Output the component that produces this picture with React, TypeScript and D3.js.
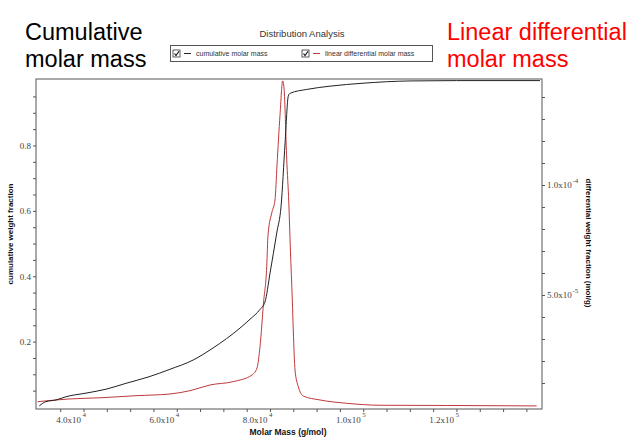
import React from "react";
import * as d3 from "d3";

// Cumulative molar mass distribution (black)
const cumMass = [30410, 31850, 33990, 36140, 40430, 44720, 49010, 53940, 58450, 63380, 67670, 73460, 75610, 77750, 78820, 79900, 81340, 82270, 83130, 83820, 84200, 87780, 92780, 99850, 109930, 119940, 137810];
const cumFrac = [0.005, 0.018, 0.023, 0.033, 0.044, 0.056, 0.074, 0.094, 0.117, 0.145, 0.182, 0.243, 0.27, 0.3, 0.323, 0.411, 0.534, 0.616, 0.81, 0.953, 0.961, 0.973, 0.983, 0.992, 0.999, 1.0, 1.0];

// Linear differential molar mass distribution (red)
const diffMass = [30050, 36780, 44080, 51150, 58450, 62740, 67030, 71960, 76040, 77110, 77750, 78500, 79190, 79470, 80330, 80970, 81400, 82040, 82620, 82900, 83480, 83930, 84270, 84680, 84890, 85260, 85970, 87040, 90620, 96350, 103490, 117800, 137100];
const diffFrac = [1.73e-6, 2.95e-6, 3.55e-6, 4.45e-6, 5.23e-6, 6.73e-6, 9.32e-6, 1.082e-5, 1.386e-5, 1.705e-5, 2.67e-5, 4.66e-5, 6.31e-5, 7.75e-5, 8.8e-5, 9.34e-5, 1.093e-4, 1.32e-4, 1.475e-4, 1.443e-4, 1.12e-4, 9.2e-5, 7.07e-5, 4.8e-5, 3.43e-5, 1.61e-5, 8.5e-6, 4.3e-6, 2.5e-6, 1.0e-6, 1e-7, 0, -2e-7];

// Axis ticks
const xMajorTicks = [40000, 60000, 80000, 100000, 120000];
const xTickMantissa = ["4.0x10", "6.0x10", "8.0x10", "1.0x10", "1.2x10"];
const xTickExponent = ["4", "4", "4", "5", "5"];
const leftMajorTicks = [0.2, 0.4, 0.6, 0.8];
const leftTickLabels = ["0.2", "0.4", "0.6", "0.8"];
const rightMajorTicks = [5e-5, 1e-4];
const rightTickMantissa = ["5.0x10", "1.0x10"];
const rightTickExponent = ["-5", "-4"];

const W = 631;
const H = 439;
const plot = { left: 36, right: 542, top: 79, bottom: 409 };

const serif = "'Liberation Serif', 'DejaVu Serif', serif";
const sans = "'Liberation Sans', Arial, sans-serif";

export default function App() {
  const x = d3.scaleLinear().domain([29700, 138240]).range([plot.left, plot.right]);
  const yL = d3.scaleLinear().domain([-0.0046, 1.0049]).range([plot.bottom, plot.top]);
  const yR = d3.scaleLinear().domain([-1.6e-6, 1.484e-4]).range([plot.bottom, plot.top]);

  const cumLine = d3
    .line<number>()
    .x((_, i) => x(cumMass[i]))
    .y((d) => yL(d))
    .curve(d3.curveMonotoneX);
  const diffLine = d3
    .line<number>()
    .x((_, i) => x(diffMass[i]))
    .y((d) => yR(d))
    .curve(d3.curveMonotoneX);

  const xMinor = d3.range(35000, 138000, 5000);
  const leftMinor = d3.range(0.05, 1.0, 0.05);
  const rightMinor = d3.range(1e-5, 1.45e-4, 1e-5);

  const axisColor = "#555";
  const labelColor = "#444";

  const checkbox = (cx: number, cy: number) => (
    <g>
      <rect x={cx} y={cy} width={7} height={7} fill="#fff" stroke="#333" strokeWidth={0.8} />
      <path d={`M${cx + 1.5},${cy + 3.5} L${cx + 3},${cy + 5.5} L${cx + 6},${cy + 1.2}`} fill="none" stroke="#111" strokeWidth={1.1} />
    </g>
  );

  return (
    <svg
      width={W}
      height={H}
      style={{ position: "absolute", left: 0, top: 0, background: "#fff" }}
      xmlns="http://www.w3.org/2000/svg"
    >
      <rect x={0} y={0} width={W} height={H} fill="#fff" />

      {/* Side headings */}
      <text x={25} y={40} fontFamily={sans} fontSize={23.5} fill="#000">Cumulative</text>
      <text x={25} y={67} fontFamily={sans} fontSize={23.5} fill="#000">molar mass</text>
      <text x={447} y={40} fontFamily={sans} fontSize={23.5} fill="#ff0000">Linear differential</text>
      <text x={447} y={67} fontFamily={sans} fontSize={23.5} fill="#ff0000">molar mass</text>

      {/* Chart title and legend */}
      <text x={302} y={37} textAnchor="middle" fontFamily={sans} fontSize={9.5} fill="#333">Distribution Analysis</text>
      <rect x={170.5} y={45.5} width={262} height={16} fill="#fff" stroke="#555" strokeWidth={1} />
      {checkbox(173, 50)}
      <line x1={184} x2={191} y1={53.5} y2={53.5} stroke="#222" strokeWidth={1} />
      <text x={196} y={56} fontFamily={sans} fontSize={7} fill="#333">cumulative molar mass</text>
      {checkbox(302, 50)}
      <line x1={313} x2={320} y1={53.5} y2={53.5} stroke="#c0393b" strokeWidth={1} />
      <text x={325} y={56} fontFamily={sans} fontSize={7} fill="#333">linear differential molar mass</text>

      {/* Plot frame */}
      <rect
        x={plot.left}
        y={plot.top}
        width={plot.right - plot.left}
        height={plot.bottom - plot.top}
        fill="#fff"
        stroke={axisColor}
        strokeWidth={1}
      />

      {/* Bottom axis */}
      {xMinor.map((v) => (
        <line key={`xm${v}`} x1={x(v)} x2={x(v)} y1={plot.bottom} y2={plot.bottom + 3} stroke={axisColor} strokeWidth={1} />
      ))}
      {xMajorTicks.map((v, i) => (
        <g key={`xl${v}`}>
          <text x={x(v) - 3} y={423} textAnchor="end" fontFamily={serif} fontSize={9} fill={labelColor}>
            {xTickMantissa[i]}
          </text>
          <text x={x(v) - 1.5} y={417} fontFamily={serif} fontSize={7} fill={labelColor}>
            {xTickExponent[i]}
          </text>
        </g>
      ))}
      <text x={288} y={435} textAnchor="middle" fontFamily={sans} fontWeight="bold" fontSize={8.5} fill="#111">
        Molar Mass (g/mol)
      </text>

      {/* Left axis */}
      {leftMinor.map((v) => (
        <line key={`lm${v}`} x1={plot.left - 3} x2={plot.left} y1={yL(v)} y2={yL(v)} stroke={axisColor} strokeWidth={1} />
      ))}
      {leftMajorTicks.map((v, i) => (
        <text key={`ll${v}`} x={31} y={yL(v) + 3} textAnchor="end" fontFamily={serif} fontSize={9} fill={labelColor}>
          {leftTickLabels[i]}
        </text>
      ))}
      <text
        transform={`translate(13, 234) rotate(-90)`}
        textAnchor="middle"
        fontFamily={sans}
        fontWeight="bold"
        fontSize={8}
        fill="#111"
      >
        cumulative weight fraction
      </text>

      {/* Right axis */}
      {rightMinor.map((v) => (
        <line key={`rm${v}`} x1={plot.right} x2={plot.right + 3} y1={yR(v)} y2={yR(v)} stroke={axisColor} strokeWidth={1} />
      ))}
      {rightMajorTicks.map((v, i) => (
        <g key={`rl${v}`}>
          <text x={547} y={yR(v) + 3} fontFamily={serif} fontSize={9} fill={labelColor}>
            {rightTickMantissa[i]}
          </text>
          <text x={572.5} y={yR(v) - 2.5} fontFamily={serif} fontSize={7} fill={labelColor}>
            {rightTickExponent[i]}
          </text>
        </g>
      ))}
      <text
        transform={`translate(586, 243) rotate(90)`}
        textAnchor="middle"
        fontFamily={sans}
        fontWeight="bold"
        fontSize={8}
        fill="#111"
      >
        differential weight fraction (mol/g)
      </text>

      {/* Series */}
      <path d={diffLine(diffFrac) ?? ""} fill="none" stroke="#c0393b" strokeWidth={1} />
      <path d={cumLine(cumFrac) ?? ""} fill="none" stroke="#222" strokeWidth={1} />
    </svg>
  );
}
